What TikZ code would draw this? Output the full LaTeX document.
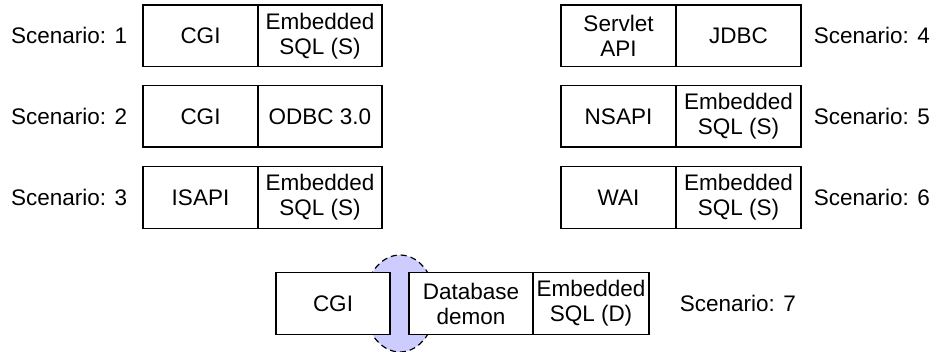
\documentclass[tikz,border=0pt]{standalone}
\usepackage{fontspec}
\setmainfont{Liberation Sans}
\usetikzlibrary{positioning}
\begin{document}
\begin{tikzpicture}[x=1pt,y=-1pt,
  txt/.style={font=\fontsize{22.5}{25}\selectfont},
  cell/.style={txt,draw=black,line width=1.4pt,fill=white,inner sep=0pt,
    minimum height=61.5pt,align=center},
  lbl/.style={txt,inner sep=0pt,anchor=center},
  link/.style={draw=black,dash pattern=on 6pt off 4pt,line width=1.2pt,fill=lav}
]
\definecolor{lav}{HTML}{CCCCFF}
\useasboundingbox (0,0) rectangle (936,352);

% left column
\node[cell,minimum width=115pt] (s1a) at (200.5,35.8) {CGI};
\node[cell,minimum width=124pt] (s1b) at (320,35.8) {Embedded\\SQL (S)};
\node[cell,minimum width=115pt] (s2a) at (200.5,116.3) {CGI};
\node[cell,minimum width=124pt] (s2b) at (320,116.3) {ODBC 3.0};
\node[cell,minimum width=115pt] (s3a) at (200.5,197.5) {ISAPI};
\node[cell,minimum width=124pt] (s3b) at (320,197.5) {Embedded\\SQL (S)};
\node[lbl,left=15pt of s1a] (l1) {Scenario: 1};
\node[lbl,left=15pt of s2a] (l2) {Scenario: 2};
\node[lbl,left=15pt of s3a] (l3) {Scenario: 3};

% right column
\node[cell,minimum width=115pt] (s4a) at (618.5,35.8) {Servlet\\API};
\node[cell,minimum width=125pt] (s4b) at (738.5,35.8) {JDBC};
\node[cell,minimum width=115pt] (s5a) at (618.5,116.3) {NSAPI};
\node[cell,minimum width=125pt] (s5b) at (738.5,116.3) {Embedded\\SQL (S)};
\node[cell,minimum width=115pt] (s6a) at (618.5,197.5) {WAI};
\node[cell,minimum width=125pt] (s6b) at (738.5,197.5) {Embedded\\SQL (S)};
\node[lbl,right=12pt of s4b] (l4) {Scenario: 4};
\node[lbl,right=12pt of s5b] (l5) {Scenario: 5};
\node[lbl,right=12pt of s6b] (l6) {Scenario: 6};

% scenario 7 with the process link behind the boxes
\coordinate (gap) at (400,303.5);
\path[link] (gap) ellipse [x radius=36pt, y radius=48.5pt];
\node[cell,minimum width=114pt] (s7a) at (333,303.5) {CGI};
\node[cell,minimum width=124pt] (s7b) at (471,303.5) {Database\\demon};
\node[cell,minimum width=116pt] (s7c) at (591,303.5) {Embedded\\SQL (D)};
\node[lbl,right=30pt of s7c] (l7) {Scenario: 7};
\end{tikzpicture}
\end{document}
